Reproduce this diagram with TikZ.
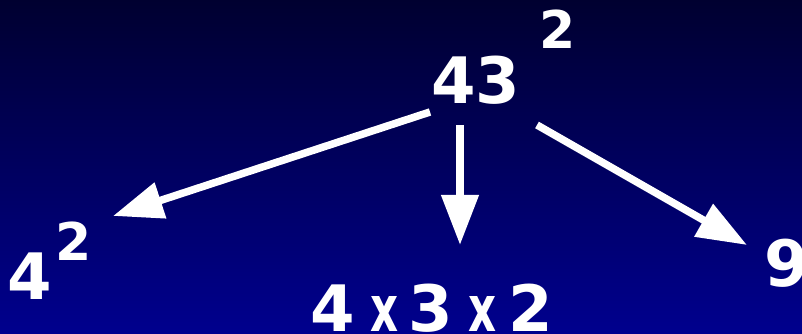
\documentclass[tikz,border=0pt]{standalone}
\usepackage{fontspec}
\setmainfont{DejaVu Sans}
\usetikzlibrary{arrows.meta}
\definecolor{nighttop}{RGB}{0,0,48}
\definecolor{nightbot}{RGB}{0,0,142}
\newcommand{\timesx}{\scalebox{0.68}[1]{x}}

\begin{document}
\begin{tikzpicture}[x=1pt,y=1pt,
    every node/.style={text=white,inner sep=0pt,anchor=base west,
        font=\bfseries\fontsize{64}{70}\selectfont},
    power/.style={font=\bfseries\fontsize{52}{60}\selectfont},
    splitarrow/.style={white,line width=7.5pt,-{Triangle[length=50pt,width=36pt]}}]
  \useasboundingbox (0,0) rectangle (802,334);
  \shade[top color=nighttop,bottom color=nightbot] (0,0) rectangle (802,334);
  % the square and its three readings
  \node (num) at (431,230) {43};
  \node[power] (numsq) at (539,285) {2};
  \node (left) at (7,34) {4};
  \node[power] (leftsq) at (55,73) {2};
  \node (prod) at (310,2) {4\hspace{16pt}\timesx\hspace{10pt}3\hspace{15.5pt}\timesx\hspace{11.5pt}2};
  \node (nine) at (764,47) {9};
  \draw[splitarrow] ([shift={(-1,-8)}]num.base west) -- ([shift={(58,45)}]leftsq.base west);
  \draw[splitarrow] ([shift={(29,-21)}]num.base west) -- ([shift={(150,87)}]prod.base west);
  \draw[splitarrow] ([shift={(106,-21)}]num.base west) -- ([shift={(-17,42)}]nine.base west);
\end{tikzpicture}
\end{document}
